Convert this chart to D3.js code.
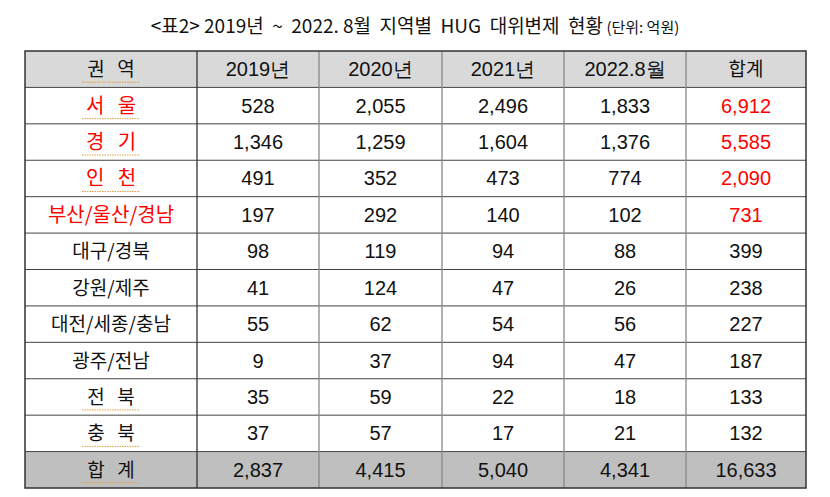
<!DOCTYPE html>
<html><head><meta charset="utf-8">
<script src="https://cdn.jsdelivr.net/npm/d3@7/dist/d3.min.js"></script>
<style>body{margin:0;background:#fff} text{white-space:pre}</style></head>
<body><svg id="c" width="830" height="497"></svg>
<script>
const title = "<표2> 2019년  ~  2022. 8월  지역별  HUG  대위변제  현황";
const unit = "(단위: 억원)";
const headers = ["권   역","2019년","2020년","2021년","2022.8월","합계"];
const regions = ["서   울","경   기","인   천","부산/울산/경남","대구/경북","강원/제주","대전/세종/충남","광주/전남","전   북","충   북"];
const v2019 = [528,1346,491,197,98,41,55,9,35,37];
const v2020 = [2055,1259,352,292,119,124,62,37,59,57];
const v2021 = [2496,1604,473,140,94,47,54,94,22,17];
const v2022 = [1833,1376,774,102,88,26,56,47,18,21];
const totals = [6912,5585,2090,731,399,238,227,187,133,132];
const sumRow = ["합   계",2837,4415,5040,4341,16633];
const redRows = [0,1,2,3];

const svg = d3.select("#c");
const fmt = d3.format(",");
const colEdges = [25,197,319,442,564,686,806];
const rowKeys = ["h",...regions.map((r,i)=>"r"+i),"t"];
const y = d3.scaleBand().domain(rowKeys).range([51,488]);
const colX = i => colEdges[i], colW = i => colEdges[i+1]-colEdges[i];
const kr = "'Noto Sans CJK KR', sans-serif", num = "'Liberation Sans', Arial, sans-serif";

svg.append("text").attr("x",415).attr("y",33).attr("text-anchor","middle")
  .style("font-family",kr).style("font-size","19px").attr("fill","#111")
  .text(title).append("tspan").style("font-size","15px").text(" "+unit);

const rows = [headers, ...regions.map((r,i)=>[r,v2019[i],v2020[i],v2021[i],v2022[i],totals[i]]), sumRow];
rows.forEach((row,ri)=>{
  const key = rowKeys[ri];
  const bg = ri===0 ? "#d9d9d9" : (ri===rows.length-1 ? "#bfbfbf" : "#fff");
  svg.append("rect").attr("x",25).attr("y",y(key)).attr("width",781).attr("height",y.bandwidth()).attr("fill",bg);
  row.forEach((cell,ci)=>{
    const isText = typeof cell === "string";
    const red = redRows.includes(ri-1) && (ci===0 || ci===5);
    const useKr = ci===0 || (ri===0 && ci===5);
    svg.append("text").attr("x",colX(ci)+colW(ci)/2).attr("y",y(key)+y.bandwidth()/2+7)
      .attr("text-anchor","middle").attr("fill",red?"#ff0000":"#111")
      .style("font-family", useKr ? kr : num)
      .style("font-size", useKr ? (red ? "20px" : "19px") : "20px")
      .text(isText ? cell : fmt(cell));
    if(ci===0 && /   /.test(cell)){
      svg.append("line").attr("x1",colX(0)+colW(0)/2-29).attr("x2",colX(0)+colW(0)/2+29)
        .attr("y1",y(key)+y.bandwidth()/2+13).attr("y2",y(key)+y.bandwidth()/2+13)
        .attr("stroke","#e0a040").attr("stroke-width",1).attr("stroke-dasharray","1.5,1");
    }
  });
});
rowKeys.slice(1).forEach(k=>svg.append("line").attr("x1",25).attr("x2",806).attr("y1",y(k)).attr("y2",y(k)).attr("stroke","#444").attr("stroke-width",1));
colEdges.slice(1,-1).forEach((x,i)=>svg.append("line").attr("x1",x).attr("x2",x).attr("y1",51).attr("y2",488).attr("stroke",i===0?"#333":"#888").attr("stroke-width",1.3));
svg.append("rect").attr("x",25).attr("y",51).attr("width",781).attr("height",437).attr("fill","none").attr("stroke","#333").attr("stroke-width",1.5);
</script></body></html>
